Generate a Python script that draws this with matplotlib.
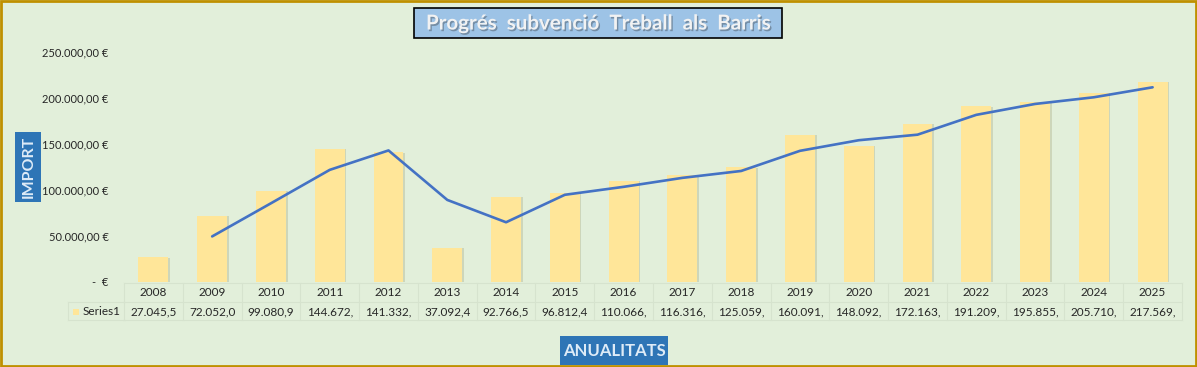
import numpy as np
import matplotlib
matplotlib.use("Agg")
import matplotlib.pyplot as plt
import matplotlib.patheffects as pe
from matplotlib.patches import Rectangle
from matplotlib.lines import Line2D
from matplotlib.ticker import FuncFormatter
from matplotlib.transforms import blended_transform_factory

# ---- data ----
years = ["2008", "2009", "2010", "2011", "2012", "2013", "2014", "2015", "2016",
         "2017", "2018", "2019", "2020", "2021", "2022", "2023", "2024", "2025"]
values = [27045.5, 72052.0, 99080.9, 144672.0, 141332.0, 37092.4, 92766.5, 96812.4,
          110066.0, 116316.0, 125059.0, 160091.0, 148092.0, 172163.0, 191209.0,
          195855.0, 205710.0, 217569.0]
table_labels = ["27.045,5", "72.052,0", "99.080,9", "144.672,", "141.332,", "37.092,4",
                "92.766,5", "96.812,4", "110.066,", "116.316,", "125.059,", "160.091,",
                "148.092,", "172.163,", "191.209,", "195.855,", "205.710,", "217.569,"]
# 2-period moving average trend line (2009-2025)
trend_years_idx = list(range(1, 18))
trend = [49548.8, 85566.5, 121876.5, 143002.0, 89212.2, 64929.5, 94789.5, 103439.2,
         113191.0, 120687.5, 142575.0, 154091.5, 160127.5, 181686.0, 193532.0,
         200782.5, 211639.5]
series_name = "Series1"
title = "Progrés  subvenció  Treball  als  Barris"
ylabel = "IMPORT"
xlabel = "ANUALITATS"

W, H = 1197, 367
plt.rcParams['font.family'] = ['Lato', 'DejaVu Sans']

BG = '#E2EFDA'
BAR = '#FFE699'
LINE = '#4472C4'
BOX = '#2E75B6'
GRID = '#D6E3CE'
TXT = '#262626'

fig = plt.figure(figsize=(W / 100, H / 100), dpi=100)
fig.patch.set_facecolor(BG)

def fx(px):
    return px / W

def fy(py):
    return 1 - py / H

ax = fig.add_axes([fx(124), fy(282), (1182 - 124) / W, (282 - 52) / H])
ax.set_facecolor('none')
x = np.arange(len(years))
ax.bar(x, values, width=0.51, color=BAR, zorder=2,
       path_effects=[pe.withSimplePatchShadow(offset=(1.2, -0.4), shadow_rgbFace='#a8a880', alpha=0.35)])
ax.plot(trend_years_idx, trend, color=LINE, lw=1.9, zorder=3, solid_capstyle='round')
ax.set_xlim(-0.5, len(years) - 0.5)
ax.set_ylim(0, 250000)
ax.set_yticks(np.arange(0, 250001, 50000))

def fmt(v, pos):
    if v == 0:
        return "-  €"
    s = f"{v:,.2f}".replace(",", "X").replace(".", ",").replace("X", ".")
    return s + " €"

ax.yaxis.set_major_formatter(FuncFormatter(fmt))
ax.tick_params(axis='y', length=0, pad=11, labelsize=8, labelcolor=TXT)
ax.set_xticks([])
for s in ax.spines.values():
    s.set_visible(False)

# ---- data table ----
bt = blended_transform_factory(ax.transData, fig.transFigure)
y_top, y_mid, y_bot = fy(283), fy(302), fy(320)
n = len(years)
for yy in (y_top, y_mid, y_bot):
    fig.add_artist(Line2D([-0.5, n - 0.5], [yy, yy], transform=bt, color=GRID, lw=0.8))
for i in range(n + 1):
    fig.add_artist(Line2D([i - 0.5, i - 0.5], [y_top, y_bot], transform=bt, color=GRID, lw=0.8))
# legend cell
fig.add_artist(Line2D([fx(68), fx(124)], [y_mid, y_mid], transform=fig.transFigure, color=GRID, lw=0.8))
fig.add_artist(Line2D([fx(68), fx(124)], [y_bot, y_bot], transform=fig.transFigure, color=GRID, lw=0.8))
fig.add_artist(Line2D([fx(68), fx(68)], [y_mid, y_bot], transform=fig.transFigure, color=GRID, lw=0.8))
for i in range(n):
    fig.text(i, fy(293), years[i], transform=bt, ha='center', va='center', fontsize=8.5, color=TXT)
    fig.text(i, fy(311.5), table_labels[i], transform=bt, ha='center', va='center', fontsize=8.5, color=TXT)
fig.add_artist(Rectangle((fx(73), fy(314.5)), 6 / W, 6 / H, transform=fig.transFigure,
                         fc=BAR, ec='none'))
fig.text(fx(83), fy(311.5), series_name, ha='left', va='center', fontsize=8.5, color=TXT)

# ---- title ----
fig.add_artist(Rectangle((fx(414), fy(38)), (782 - 414) / W, 30 / H, transform=fig.transFigure,
                         fc='#9DC3E6', ec='black', lw=1.2))
t = fig.text(fx(598), fy(23.5), title, ha='center', va='center', fontsize=14.8,
             fontweight='bold', color='#F2F2F2')
t.set_path_effects([pe.withSimplePatchShadow(offset=(1, -1.2), shadow_rgbFace='#5a6a7a', alpha=0.6)])

# ---- axis title boxes ----
fig.add_artist(Rectangle((fx(15), fy(202)), 26 / W, 70 / H, transform=fig.transFigure,
                         fc=BOX, ec='none'))
fig.text(fx(28.5), fy(167), ylabel, rotation=90, ha='center', va='center', fontsize=11.5,
         fontweight='bold', color='#DEEBF7')
fig.add_artist(Rectangle((fx(560), fy(365)), 108 / W, 29 / H, transform=fig.transFigure,
                         fc=BOX, ec='none'))
fig.text(fx(614), fy(351), xlabel, ha='center', va='center', fontsize=12,
         fontweight='bold', color='#DEEBF7')

# ---- border ----
fig.add_artist(Rectangle((0.001, 0.002), 0.998, 0.996, transform=fig.transFigure,
                         fill=False, ec='#BF9000', lw=2))

fig.savefig("out.png", dpi=100, facecolor=BG)
